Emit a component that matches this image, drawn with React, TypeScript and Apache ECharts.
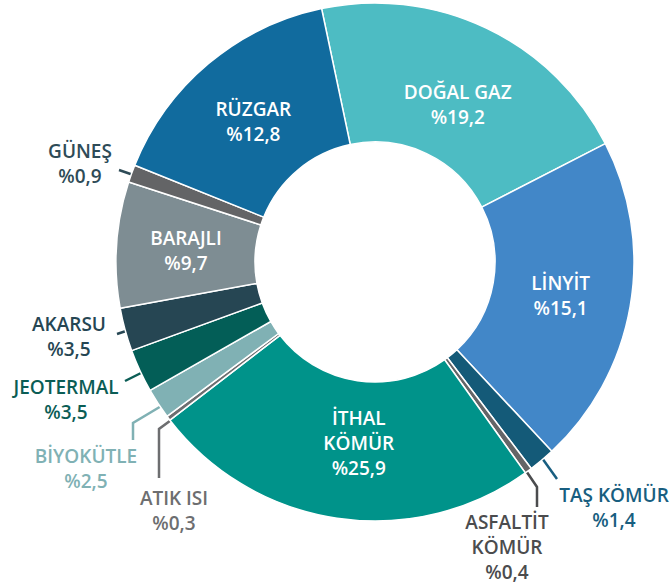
import React, { useEffect, useRef } from "react";
import * as echarts from "echarts";

// Category names, clockwise from the top
const names = [
  "DOĞAL GAZ", "LİNYİT", "TAŞ KÖMÜR", "ASFALTİT KÖMÜR", "İTHAL KÖMÜR", "ATIK ISI",
  "BİYOKÜTLE", "JEOTERMAL", "AKARSU", "BARAJLI", "GÜNEŞ", "RÜZGAR",
];
// Percentages printed on the chart
const labelPercents = [19.2, 15.1, 1.4, 0.4, 25.9, 0.3, 2.5, 3.5, 3.5, 9.7, 0.9, 12.8];
// Share of the ring each slice occupies as drawn in the picture (%)
const ringShares = [20.75, 20.6, 1.65, 0.45, 24.4, 0.3, 1.9, 2.7, 2.7, 7.85, 1.1, 15.6];
const colors = [
  "#4dbcc3", "#4287c8", "#145a78", "#646567", "#00938a", "#6d6e70",
  "#80b1b4", "#035e57", "#264653", "#7e8d93", "#636466", "#116b9e",
];
const FONT = "'Open Sans', 'Noto Sans', sans-serif";
const WEIGHT = 600;
const SIZE = 19;

const fmt = (v: number) => "%" + v.toFixed(1).replace(".", ",");

export default function App() {
  const ref = useRef<HTMLDivElement>(null);
  useEffect(() => {
    document.body.style.margin = "0";
    const chart = echarts.init(ref.current!, null, { renderer: "svg" });
    const inside: Record<number, { text: string; offset: number[] }> = {
      0: { text: "DOĞAL GAZ", offset: [0, 16] },
      1: { text: "LİNYİT", offset: [-4, 0] },
      4: { text: "İTHAL\nKÖMÜR", offset: [12, -9] },
      9: { text: "BARAJLI", offset: [3, 1] },
      11: { text: "RÜZGAR", offset: [2, 7] },
    };
    const data = names.map((n, i) => {
      const ins = inside[i];
      return {
        name: n,
        value: ringShares[i],
        itemStyle: { color: colors[i] },
        label: ins
          ? {
              show: true,
              position: "inside",
              formatter: ins.text + "\n" + fmt(labelPercents[i]),
              offset: ins.offset,
              color: "#ffffff",
              fontFamily: FONT,
              fontWeight: WEIGHT,
              fontSize: SIZE,
              lineHeight: 25,
              align: "center",
            }
          : { show: false },
      };
    });

    const outside = [
      { i: 10, x: 80, y: 163, color: "#2e4b57", line: [[119, 170], [142, 178]] },
      { i: 8, x: 69, y: 336, color: "#264653", line: [[117, 334], [129, 330]] },
      { i: 7, x: 66, y: 399, color: "#0b5d55", line: [[125, 381], [143, 372]] },
      { i: 6, x: 86, y: 468, color: "#80b1b4", line: [[133, 440], [133, 423], [163, 405]] },
      { i: 5, x: 174, y: 510, color: "#6d6e70", line: [[159, 478], [159, 429], [178, 415]] },
      { i: 2, x: 614, y: 507, color: "#185e80", line: [[542, 458], [557, 479]] },
      { i: 3, x: 507, y: 547, color: "#4b4c4e", line: [[520, 462], [537, 487], [537, 507]] },
    ];
    const graphics: any[] = [];
    outside.forEach((o) => {
      const nm = o.i === 3 ? "ASFALTİT\nKÖMÜR" : names[o.i];
      graphics.push({
        type: "polyline",
        shape: { points: o.line },
        style: { stroke: o.color, lineWidth: 2.5, fill: null },
      });
      graphics.push({
        type: "text",
        x: o.x,
        y: o.y,
        style: {
          text: nm + "\n" + fmt(labelPercents[o.i]),
          fill: o.color,
          font: `${WEIGHT} ${SIZE}px ${FONT}`,
          lineHeight: 25,
          align: "center",
          verticalAlign: "middle",
        },
      });
    });

    chart.setOption({
      animation: false,
      graphic: graphics,
      series: [
        {
          type: "pie",
          center: [375, 262],
          radius: [120, 259],
          startAngle: 101.9,
          clockwise: true,
          avoidLabelOverlap: false,
          labelLine: { show: false },
          emphasis: { disabled: true },
          itemStyle: { borderColor: "#ffffff", borderWidth: 1.5 },
          data,
        },
      ],
    });
    return () => chart.dispose();
  }, []);
  return <div ref={ref} style={{ width: 672, height: 587 }} />;
}
